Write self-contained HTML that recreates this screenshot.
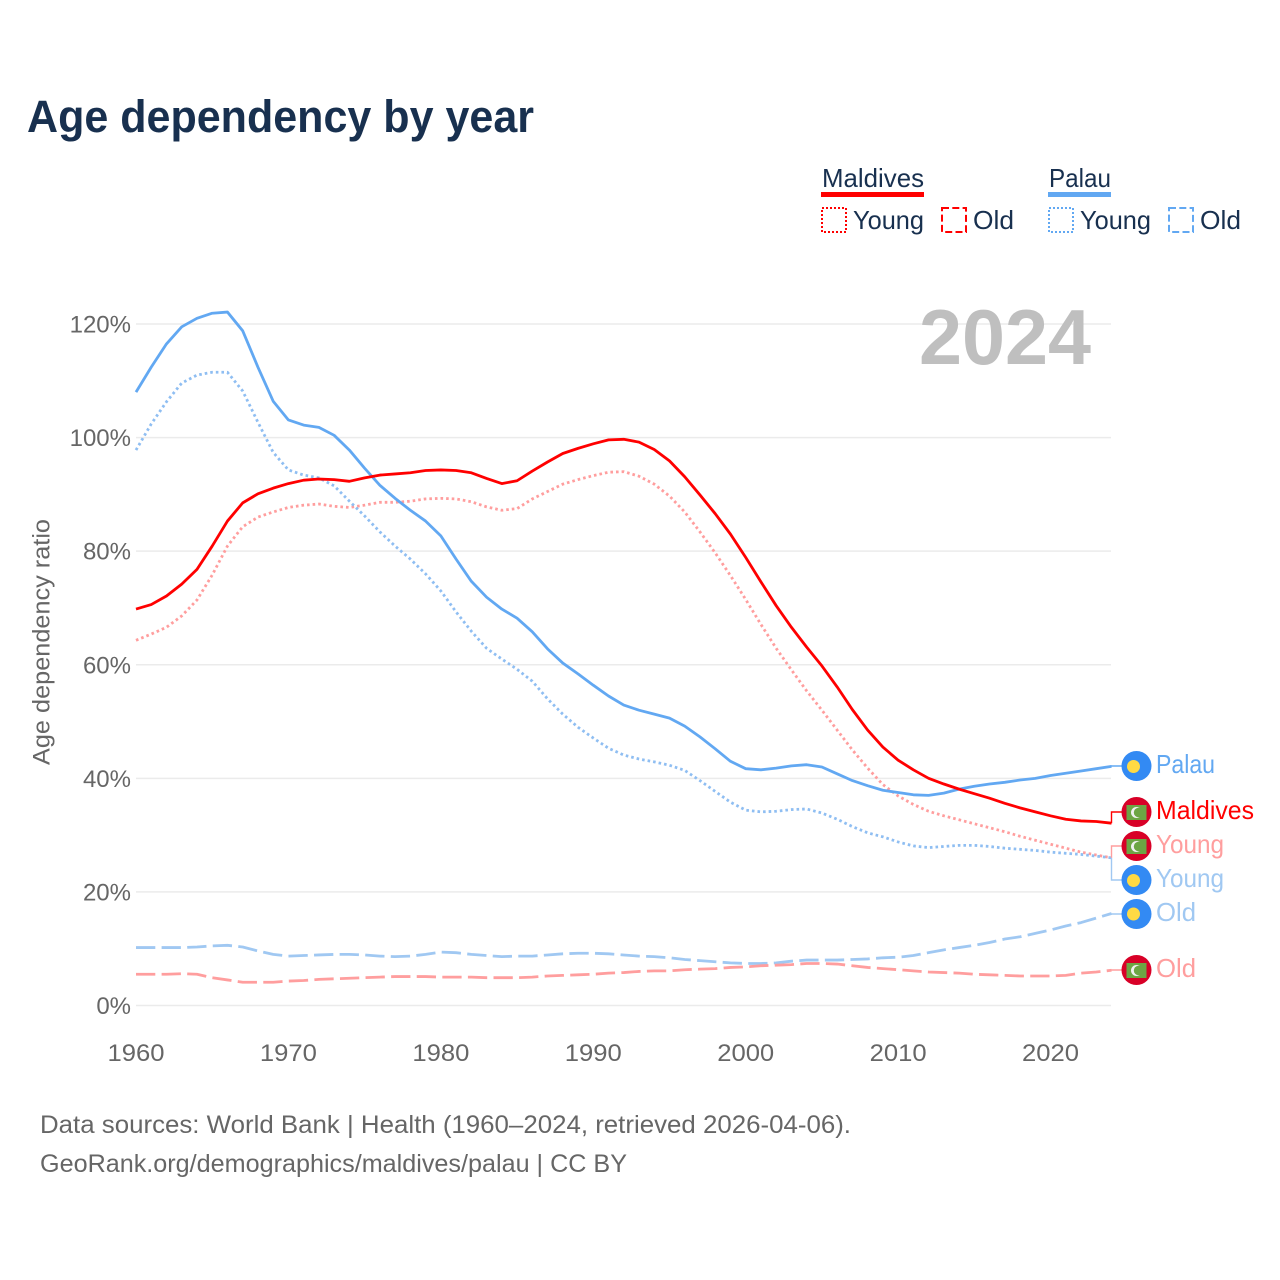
<!DOCTYPE html>
<html lang="en">
<head>
<meta charset="utf-8">
<title>Age dependency by year</title>
<style>
html,body{margin:0;padding:0;background:#fff}
svg{display:block}
text{font-family:"Liberation Sans",sans-serif}
</style>
</head>
<body>
<svg id="chart" xmlns="http://www.w3.org/2000/svg" width="1280" height="1280" viewBox="0 0 1280 1280">
  <rect x="0" y="0" width="1280" height="1280" fill="#fff"/>
  <text x="27" y="132" font-size="45" font-weight="700" fill="#18304f" textLength="507" lengthAdjust="spacingAndGlyphs">Age dependency by year</text>

  <g font-size="26" fill="#18304f">
    <text x="822" y="187" textLength="102" lengthAdjust="spacingAndGlyphs">Maldives</text>
    <rect x="821" y="192" width="103" height="5" fill="#ff0000"/>
    <rect x="822" y="208" width="24" height="24" fill="none" stroke="#ff0000" stroke-width="2" stroke-dasharray="2 2"/>
    <text x="853" y="229" textLength="71" lengthAdjust="spacingAndGlyphs">Young</text>
    <rect x="942" y="208" width="24" height="24" fill="none" stroke="#ff0000" stroke-width="2" stroke-dasharray="7 3.3"/>
    <text x="973" y="229" textLength="41" lengthAdjust="spacingAndGlyphs">Old</text>
    <text x="1049" y="187" textLength="62" lengthAdjust="spacingAndGlyphs">Palau</text>
    <rect x="1048" y="192" width="63" height="5" fill="#62a8f2"/>
    <rect x="1049" y="208" width="24" height="24" fill="none" stroke="#62a8f2" stroke-width="2" stroke-dasharray="2 2"/>
    <text x="1080" y="229" textLength="71" lengthAdjust="spacingAndGlyphs">Young</text>
    <rect x="1169" y="208" width="24" height="24" fill="none" stroke="#62a8f2" stroke-width="2" stroke-dasharray="7 3.3"/>
    <text x="1200" y="229" textLength="41" lengthAdjust="spacingAndGlyphs">Old</text>
  </g>

  <g id="grid"></g>
  <g id="yticks" font-size="24" fill="#666" text-anchor="end"></g>
  <g id="xticks" font-size="24" fill="#666" text-anchor="middle"></g>
  <text transform="translate(49.5,642) rotate(-90)" font-size="24" fill="#666" text-anchor="middle" textLength="246" lengthAdjust="spacingAndGlyphs">Age dependency ratio</text>
  <text x="919" y="364" font-size="78" font-weight="700" fill="#bfbfbf" textLength="172" lengthAdjust="spacingAndGlyphs">2024</text>

  <g id="series" fill="none"></g>
  <g id="connectors" fill="none"></g>

  <g font-size="26">
    <g>
      <circle cx="1136.5" cy="766" r="15" fill="#338af3"/><circle cx="1133.5" cy="766.5" r="6.5" fill="#ffda44"/>
    </g>
    <text x="1156" y="773" fill="#62a8f2" textLength="59" lengthAdjust="spacingAndGlyphs">Palau</text>

    <g>
      <circle cx="1136.5" cy="812" r="15" fill="#d80027"/><rect x="1126.5" y="805" width="20" height="15" fill="#6da544"/>
      <circle cx="1136.5" cy="812.5" r="5.5" fill="#f0f0f0"/><circle cx="1138.6" cy="812.5" r="4.8" fill="#6da544"/>
    </g>
    <text x="1156" y="819" fill="#ff0000" textLength="98" lengthAdjust="spacingAndGlyphs">Maldives</text>

    <g>
      <circle cx="1136.5" cy="846" r="15" fill="#d80027"/><rect x="1126.5" y="839" width="20" height="15" fill="#6da544"/>
      <circle cx="1136.5" cy="846.5" r="5.5" fill="#f0f0f0"/><circle cx="1138.6" cy="846.5" r="4.8" fill="#6da544"/>
    </g>
    <text x="1156" y="853" fill="#ff9e9e" textLength="68" lengthAdjust="spacingAndGlyphs">Young</text>

    <g>
      <circle cx="1136.5" cy="880" r="15" fill="#338af3"/><circle cx="1133.5" cy="880.5" r="6.5" fill="#ffda44"/>
    </g>
    <text x="1156" y="887" fill="#a0c8f2" textLength="68" lengthAdjust="spacingAndGlyphs">Young</text>

    <g>
      <circle cx="1136.5" cy="914" r="15" fill="#338af3"/><circle cx="1133.5" cy="914" r="6.5" fill="#ffda44"/>
    </g>
    <text x="1156" y="921" fill="#a0c8f2" textLength="40" lengthAdjust="spacingAndGlyphs">Old</text>

    <g>
      <circle cx="1136.5" cy="970" r="15" fill="#d80027"/><rect x="1126.5" y="963" width="20" height="15" fill="#6da544"/>
      <circle cx="1136.5" cy="970.5" r="5.5" fill="#f0f0f0"/><circle cx="1138.6" cy="970.5" r="4.8" fill="#6da544"/>
    </g>
    <text x="1156" y="977" fill="#ff9e9e" textLength="40" lengthAdjust="spacingAndGlyphs">Old</text>
  </g>

  <g font-size="25" fill="#666">
    <text x="40" y="1133" textLength="811" lengthAdjust="spacingAndGlyphs">Data sources: World Bank | Health (1960–2024, retrieved 2026-04-06).</text>
    <text x="40" y="1172" textLength="587" lengthAdjust="spacingAndGlyphs">GeoRank.org/demographics/maldives/palau | CC BY</text>
  </g>
</svg>

<script>
const startYear = 1960;
const endYear = 2024;
const yTickValues = [0, 20, 40, 60, 80, 100, 120];
const xTickValues = [1960, 1970, 1980, 1990, 2000, 2010, 2020];

const maldivesTotal = [
  69.8, 70.6, 72.1, 74.2, 76.8, 80.9, 85.3, 88.5, 90.1, 91.1,
  91.9, 92.5, 92.7, 92.6, 92.3, 92.9, 93.4, 93.6, 93.8, 94.2,
  94.3, 94.2, 93.8, 92.8, 91.9, 92.4, 94.1, 95.7, 97.2, 98.1,
  98.9, 99.6, 99.7, 99.2, 97.9, 95.9, 93.1, 89.9, 86.6, 83.0,
  78.9, 74.6, 70.4, 66.6, 63.1, 59.8, 56.1, 52.1, 48.5, 45.5,
  43.2, 41.5, 40.0, 39.0, 38.1, 37.3, 36.5, 35.6, 34.8, 34.1,
  33.4, 32.8, 32.5, 32.4, 32.1
];
const maldivesYoung = [
  64.3, 65.4, 66.6, 68.6, 71.4, 75.8, 80.9, 84.3, 86.0, 86.9,
  87.7, 88.1, 88.3, 87.9, 87.7, 88.1, 88.6, 88.6, 88.8, 89.2,
  89.3, 89.2, 88.7, 87.8, 87.2, 87.5, 89.2, 90.5, 91.8, 92.6,
  93.3, 93.9, 94.0, 93.2, 91.8, 89.7, 86.9, 83.4, 79.7, 75.7,
  71.5, 67.1, 62.9, 59.1, 55.4, 52.0, 48.5, 45.0, 41.8, 38.9,
  36.9, 35.4, 34.2, 33.4, 32.7, 32.0, 31.3, 30.6, 29.8, 29.1,
  28.4, 27.7, 27.0, 26.5, 26.0
];
const maldivesOld = [
  5.5, 5.5, 5.5, 5.6, 5.5, 4.9, 4.5, 4.1, 4.1, 4.1,
  4.3, 4.4, 4.6, 4.7, 4.8, 4.9, 5.0, 5.1, 5.1, 5.1,
  5.0, 5.0, 5.0, 4.9, 4.9, 4.9, 5.0, 5.2, 5.3, 5.4,
  5.5, 5.7, 5.8, 6.0, 6.1, 6.1, 6.3, 6.4, 6.5, 6.7,
  6.8, 7.0, 7.1, 7.2, 7.4, 7.4, 7.3, 7.0, 6.7, 6.5,
  6.3, 6.1, 5.9, 5.8, 5.7, 5.5, 5.4, 5.3, 5.2, 5.2,
  5.2, 5.3, 5.7, 5.9, 6.2
];
const palauTotal = [
  108.0, 112.4, 116.5, 119.5, 121.0, 121.9, 122.1, 118.8, 112.4, 106.4,
  103.1, 102.2, 101.8, 100.4, 97.8, 94.6, 91.6, 89.3, 87.2, 85.3,
  82.7, 78.6, 74.7, 71.9, 69.8, 68.2, 65.8, 62.8, 60.3, 58.4,
  56.4, 54.5, 52.9, 52.0, 51.3, 50.6, 49.2, 47.3, 45.2, 43.0,
  41.7, 41.5, 41.8, 42.2, 42.4, 42.0, 40.8, 39.6, 38.7, 37.9,
  37.5, 37.1, 37.0, 37.4, 38.1, 38.6, 39.0, 39.3, 39.7, 40.0,
  40.5, 40.9, 41.3, 41.7, 42.1
];
const palauYoung = [
  97.8, 102.4, 106.3, 109.6, 111.0, 111.5, 111.5, 108.2, 102.7, 97.4,
  94.3, 93.4, 92.9, 91.5, 88.8, 86.2, 83.4, 80.9, 78.6, 76.0,
  73.0, 69.3, 65.9, 62.9, 61.0, 59.2, 57.1, 54.0, 51.3, 49.0,
  47.1, 45.3, 44.1, 43.4, 42.9, 42.3, 41.4, 39.6, 37.7, 35.8,
  34.4, 34.1, 34.2, 34.5, 34.6, 33.9, 32.8, 31.5, 30.4, 29.7,
  28.8, 28.1, 27.8, 28.0, 28.2, 28.2, 28.0, 27.7, 27.5, 27.3,
  27.0, 26.8, 26.6, 26.3, 26.0
];
const palauOld = [
  10.2, 10.2, 10.2, 10.2, 10.3, 10.5, 10.6, 10.3, 9.6, 9.0,
  8.7, 8.8, 8.9, 9.0, 9.0, 8.9, 8.7, 8.6, 8.7, 9.0,
  9.4, 9.3, 9.0, 8.8, 8.6, 8.7, 8.7, 8.9, 9.1, 9.2,
  9.2, 9.1, 8.9, 8.7, 8.6, 8.4, 8.1, 7.9, 7.7, 7.5,
  7.4, 7.4, 7.5, 7.8, 8.0, 8.0, 8.0, 8.1, 8.2, 8.4,
  8.5, 8.8, 9.3, 9.8, 10.2, 10.6, 11.1, 11.7, 12.1, 12.7,
  13.3, 14.0, 14.6, 15.4, 16.2
];

const svgNS = 'http://www.w3.org/2000/svg';
function xScale(year) { return 136 + (year - startYear) * (1111.5 - 136) / (endYear - startYear); }
function yScale(value) { return 1005.5 - value * (1005.5 - 324) / 120; }
function make(tag, attrs, parent) {
  const el = document.createElementNS(svgNS, tag);
  for (const k in attrs) el.setAttribute(k, attrs[k]);
  parent.appendChild(el);
  return el;
}

const gridGroup = document.getElementById('grid');
const yTickGroup = document.getElementById('yticks');
yTickValues.forEach(function (v) {
  const line = make('line', { x1: 136, x2: 1111, y1: yScale(v), y2: yScale(v), stroke: '#ebebeb', 'stroke-width': 1.5 }, gridGroup);
  
  
  const label = make('text', { x: 131, y: yScale(v) + 8.5 }, yTickGroup);
  
  
  label.textContent = v + '%';
});

const xTickGroup = document.getElementById('xticks');
xTickValues.forEach(function (yr) {
  const label = make('text', { x: xScale(yr), y: 1061, textLength: 57, lengthAdjust: 'spacingAndGlyphs' }, xTickGroup);
  
  
  label.textContent = String(yr);
});

function linePath(values) {
  return values.map(function (v, i) {
    return (i ? 'L' : 'M') + xScale(startYear + i).toFixed(2) + ' ' + yScale(v).toFixed(2);
  }).join('');
}
const dotted = '2.6 3';
const dashed = '19.3 6.3';
const seriesGroup = document.getElementById('series');
function addSeries(name, values, color, dash) {
  const p = make('path', { d: linePath(values), stroke: color, 'stroke-width': 2.8, 'stroke-linejoin': 'round' }, seriesGroup);
  if (dash) p.setAttribute('stroke-dasharray', dash);
  
  
}
addSeries('line-palau-old', palauOld, '#a0c8f2', dashed);
addSeries('line-maldives-old', maldivesOld, '#ff9e9e', dashed);
addSeries('line-maldives-young', maldivesYoung, '#ff9e9e', dotted);
addSeries('line-palau-young', palauYoung, '#8fbef2', dotted);
addSeries('line-palau-total', palauTotal, '#62a8f2', '');
addSeries('line-maldives-total', maldivesTotal, '#ff0000', '');

const connGroup = document.getElementById('connectors');
function addConnector(name, values, labelY, color) {
  const endY = yScale(values[values.length - 1]);
  const d = 'M1111.5 ' + endY.toFixed(2) + 'V' + labelY + 'H1124';
  const c = make('path', { d: d, stroke: color, 'stroke-width': 1.4 }, connGroup);
  
  
}
addConnector('connector-palau-total', palauTotal, 766, '#62a8f2');
addConnector('connector-maldives-total', maldivesTotal, 812, '#ff0000');
addConnector('connector-maldives-young', maldivesYoung, 846, '#ff9e9e');
addConnector('connector-palau-young', palauYoung, 880, '#a0c8f2');
addConnector('connector-palau-old', palauOld, 914, '#a0c8f2');
addConnector('connector-maldives-old', maldivesOld, 970, '#ff9e9e');
</script>
</body>
</html>
